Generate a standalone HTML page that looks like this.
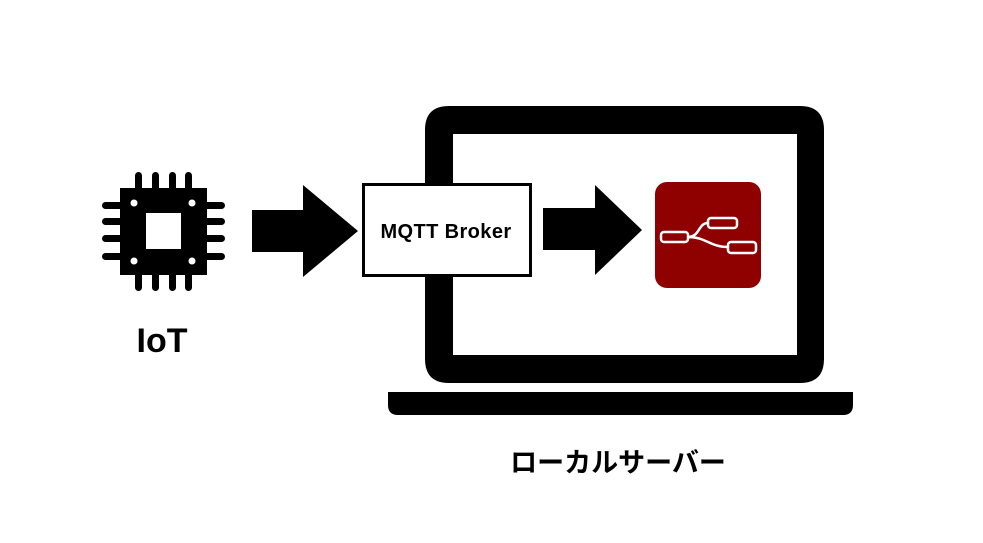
<!DOCTYPE html>
<html><head><meta charset="utf-8"><style>
body{margin:0;background:#fff;width:983px;height:538px;overflow:hidden}
</style></head><body>
<svg width="983" height="538" xmlns="http://www.w3.org/2000/svg">
<rect x="0" y="0" width="983" height="538" fill="#fff"/>
<!-- laptop -->
<path fill-rule="evenodd" fill="#000" d="M449,106 H800 Q824,106 824,130 V359 Q824,383 800,383 H449 Q425,383 425,359 V130 Q425,106 449,106 Z M453,134 V355 H797 V134 Z"/>
<path fill="#000" d="M388,392 H853 V405 Q853,415 843,415 H398 Q388,415 388,405 Z"/>
<!-- chip -->
<g fill="#000">
<rect x="120" y="188" width="87" height="87"/>
<rect x="135" y="172" width="7" height="20" rx="3.5"/><rect x="152" y="172" width="7" height="20" rx="3.5"/><rect x="169" y="172" width="7" height="20" rx="3.5"/><rect x="185" y="172" width="7" height="20" rx="3.5"/>
<rect x="135" y="271" width="7" height="20" rx="3.5"/><rect x="152" y="271" width="7" height="20" rx="3.5"/><rect x="169" y="271" width="7" height="20" rx="3.5"/><rect x="185" y="271" width="7" height="20" rx="3.5"/>
<rect x="102" y="202" width="22" height="7" rx="3.5"/><rect x="102" y="218" width="22" height="7" rx="3.5"/><rect x="102" y="235" width="22" height="7" rx="3.5"/><rect x="102" y="253" width="22" height="7" rx="3.5"/>
<rect x="203" y="202" width="22" height="7" rx="3.5"/><rect x="203" y="218" width="22" height="7" rx="3.5"/><rect x="203" y="235" width="22" height="7" rx="3.5"/><rect x="203" y="253" width="22" height="7" rx="3.5"/>
</g>
<rect x="146" y="213" width="35" height="36" fill="#fff"/>
<circle cx="134" cy="203" r="3.5" fill="#fff"/><circle cx="192" cy="203" r="3.5" fill="#fff"/>
<circle cx="134" cy="261" r="3.5" fill="#fff"/><circle cx="192" cy="261" r="3.5" fill="#fff"/>
<text x="162" y="352" font-family="Liberation Sans, sans-serif" font-weight="bold" font-size="34" text-anchor="middle">IoT</text>
<!-- arrows -->
<path fill="#000" d="M252,210 H303 V185 L358,231 L303,277 V252 H252 Z"/>
<path fill="#000" d="M543,208 H595 V185 L642,230 L595,275 V250 H543 Z"/>
<!-- MQTT -->
<rect x="363.5" y="184.5" width="167" height="91" fill="#fff" stroke="#000" stroke-width="3"/>
<text x="446" y="238" font-family="Liberation Sans, sans-serif" font-size="20" font-weight="bold" letter-spacing="0.4" text-anchor="middle" fill="#000">MQTT Broker</text>
<!-- node red -->
<rect x="655" y="182" width="106" height="106" rx="12" fill="#8f0000"/>
<g fill="none" stroke="#fff" stroke-width="2.5">
<rect x="661" y="232" width="27" height="10" rx="3"/>
<rect x="708" y="218" width="29" height="10" rx="3"/>
<rect x="728" y="242" width="28" height="11" rx="3"/>
<path d="M688,237 C700,237 698,223 708,223"/>
<path d="M688,237 C706,237 710,247 728,247"/>
</g>
<text x="618" y="472" font-family="Liberation Sans, Noto Sans CJK JP, sans-serif" font-weight="bold" font-size="27" text-anchor="middle">ローカルサーバー</text>
</svg>
</body></html>
